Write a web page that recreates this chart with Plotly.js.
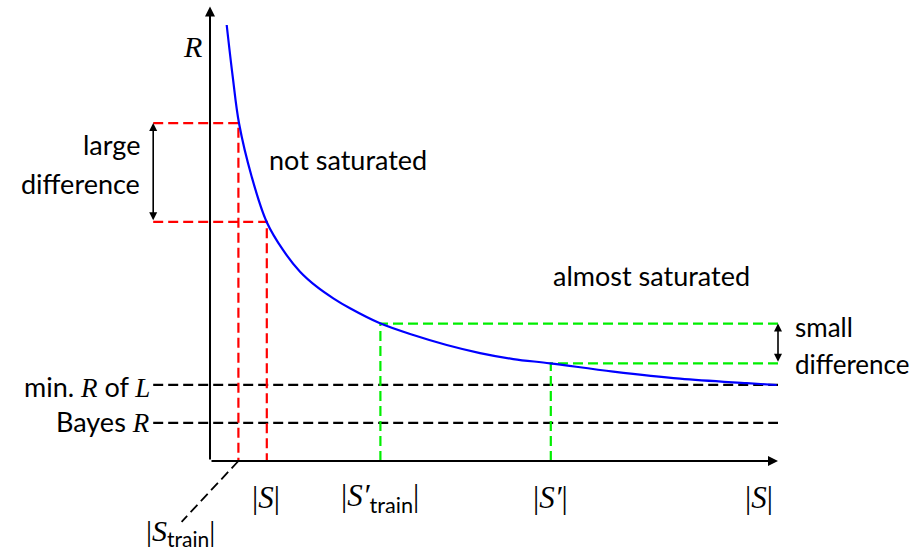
<!DOCTYPE html>
<html>
<head>
<meta charset="utf-8">
<script src="https://cdn.plot.ly/plotly-3.0.1.min.js"></script>
<style>html,body{margin:0;padding:0;background:#fff;}#chart{width:914px;height:551px;}</style>
</head>
<body>
<div id="chart"></div>
<script>
// Risk curve R(|S|) (abstract units)
const curveS = [0.294, 0.400, 0.511, 0.734, 0.998, 1.285, 1.585, 1.879, 2.171, 2.465, 2.993, 3.579, 4.167, 4.754, 5.340, 5.986, 7.100, 8.275, 9.449, 9.977];
const curveR = [7.676, 6.766, 5.945, 5.005, 4.208, 3.715, 3.333, 3.069, 2.864, 2.688, 2.424, 2.218, 2.042, 1.900, 1.795, 1.720, 1.575, 1.450, 1.370, 1.338];

// marked sample sizes: |S_train|, |S|, |S'_train|, |S'|
const redS = [0.5, 1.0];
const redR = [5.95, 4.21];
const greenS = [3.0, 6.0];
const greenR = [2.42, 1.72];

// reference risk levels
const levelNames = ["min. R of L", "Bayes R"];
const levelR = [1.34, 0.67];

// axis extents
const axisMaxS = 10;
const axisMaxR = 8;
const guideLeft = -1.0;

const mathFont = "'Liberation Serif', serif";
const textFont = "Lato, 'DejaVu Sans', sans-serif";
const m = s => `<span style="font-family:${mathFont}"><i>${s}</i></span>`;
const bar = `<span style="font-family:${mathFont}">|</span>`;
const sub = s => `<sub><span style="font-family:${textFont}">${s}</span></sub>`;

const dash = '10px,5px';
const traces = [];

// black dashed levels
levelR.forEach(r => traces.push({x: [guideLeft, axisMaxS], y: [r, r], mode: 'lines', line: {color: '#000', width: 2.2, dash: dash}, hoverinfo: 'skip'}));
// red guides
redS.forEach((s, i) => traces.push({x: [guideLeft, s, s], y: [redR[i], redR[i], 0], mode: 'lines', line: {color: '#ff0000', width: 2.2, dash: dash}, hoverinfo: 'skip'}));
// green guides
greenS.forEach((s, i) => traces.push({x: [axisMaxS, s, s], y: [greenR[i], greenR[i], 0], mode: 'lines', line: {color: '#00ee00', width: 2.2, dash: dash}, hoverinfo: 'skip'}));
// pointer to |S_train|
traces.push({x: [redS[0], -0.5], y: [0, -1.07], mode: 'lines', line: {color: '#000', width: 1.8, dash: dash}, hoverinfo: 'skip'});
// curve
traces.push({x: curveS, y: curveR, mode: 'lines', line: {color: '#0000ff', width: 2.2, shape: 'spline', smoothing: 1}, hoverinfo: 'skip'});

const pxPerUnit = 56.8;
const ox = 210, oy = 461;
const xr = [-ox / pxPerUnit, (914 - ox) / pxPerUnit];
const yr = [-(551 - oy) / pxPerUnit, oy / pxPerUnit];

const txt = (x, y, text, xanchor, size, extra) => Object.assign({x, y, xref: 'x', yref: 'y', text, showarrow: false, xanchor, yanchor: 'middle', font: {family: textFont, size: size || 27, color: '#000'}}, extra || {});
const arrow = (x0, y0, x1, y1, both, w) => ({x: x1, y: y1, ax: x0, ay: y0, xref: 'x', yref: 'y', axref: 'x', ayref: 'y', text: '', showarrow: true, arrowhead: 2, startarrowhead: 2, arrowsize: 1, startarrowsize: 1, arrowwidth: w || 1.5, arrowside: both ? 'end+start' : 'end', arrowcolor: '#000', standoff: 0, startstandoff: 0});

const annotations = [
  arrow(0, 0, axisMaxS, 0, false, 2),
  arrow(0, 0, 0, axisMaxR, false, 2),
  arrow(guideLeft, redR[1], guideLeft, redR[0], true, 1.6),
  arrow(axisMaxS, greenR[1], axisMaxS, greenR[0], true, 1.6),
  txt(-0.11, 7.29, m('R'), 'right', 30),
  txt(1.0, 5.30, 'not saturated', 'left'),
  txt(6.0, 3.27, 'almost saturated', 'left'),
  txt(-1.20, 5.58, 'large', 'right'),
  txt(-1.20, 4.88, 'difference', 'right'),
  txt(10.27, 2.36, 'small', 'left', 26),
  txt(10.27, 1.71, 'difference', 'left', 26),
  txt(-1.02, 1.31, 'min. ' + m('R') + ' of ' + m('L'), 'right'),
  txt(-1.02, 0.69, 'Bayes ' + m('R'), 'right'),
  txt(0.99, -0.65, bar + m('S') + bar, 'center', 31),
  txt(2.99, -0.65, bar + m('S′') + sub('train') + bar, 'center', 31),
  txt(5.99, -0.65, bar + m('S′') + bar, 'center', 31),
  txt(9.67, -0.65, bar + m('S') + bar, 'center', 31),
  txt(-0.52, -1.26, bar + m('S') + sub('train') + bar, 'center', 30)
];

const layout = {
  width: 914, height: 551,
  margin: {l: 0, r: 0, t: 0, b: 0},
  paper_bgcolor: '#fff', plot_bgcolor: '#fff',
  showlegend: false,
  xaxis: {range: xr, visible: false, showgrid: false, zeroline: false, fixedrange: true},
  yaxis: {range: yr, visible: false, showgrid: false, zeroline: false, fixedrange: true},
  annotations: annotations
};

Plotly.newPlot('chart', traces, layout, {staticPlot: true, displayModeBar: false});
</script>
</body>
</html>
